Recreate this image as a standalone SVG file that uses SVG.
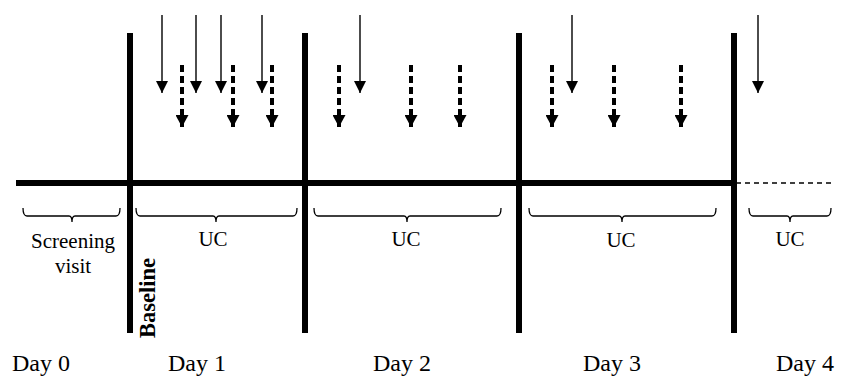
<svg xmlns="http://www.w3.org/2000/svg" width="841" height="378" viewBox="0 0 841 378">
<style>
.bar{stroke:#000;stroke-width:6;fill:none}
.axis{stroke:#000;stroke-width:6;fill:none}
.ext{stroke:#000;stroke-width:1.3;stroke-dasharray:5 4;fill:none}
.sol{stroke:#000;stroke-width:1.4;fill:none;marker-end:url(#hs)}
.dsh{stroke:#000;stroke-width:4;stroke-dasharray:7 4;fill:none;marker-end:url(#hd)}
.brace{stroke:#000;stroke-width:1.3;fill:none}
.t{font-family:"Liberation Serif","Times New Roman",serif;fill:#000;text-anchor:middle}
.s20{font-size:21px}
.s23{font-size:24px}
.bold{font-weight:bold;font-size:22.5px}
</style>
<defs>
<marker id="hs" markerUnits="userSpaceOnUse" markerWidth="12" markerHeight="12" refX="12" refY="6" orient="auto"><path d="M0,0 L12,6 L0,12 z" fill="#000"/></marker>
<marker id="hd" markerUnits="userSpaceOnUse" markerWidth="13" markerHeight="13" refX="12" refY="6.5" orient="auto"><path d="M0,0 L12,6.5 L0,13 z" fill="#000"/></marker>
</defs>
<rect width="841" height="378" fill="#fff"/>
<g id="timeline">
<line class="axis" x1="16" y1="183" x2="734" y2="183"/>
<line class="ext" x1="736" y1="183" x2="834" y2="183"/>
</g>
<g id="day-bars">
<line class="bar" x1="130" y1="33" x2="130" y2="333"/>
<line class="bar" x1="305" y1="33" x2="305" y2="333"/>
<line class="bar" x1="519" y1="33" x2="519" y2="333"/>
<line class="bar" x1="734" y1="33" x2="734" y2="333"/>
</g>
<g id="connectors">
<line class="sol" x1="162" y1="15" x2="162" y2="93"/>
<line class="sol" x1="196" y1="15" x2="196" y2="93"/>
<line class="sol" x1="221" y1="15" x2="221" y2="93"/>
<line class="sol" x1="262" y1="15" x2="262" y2="93"/>
<line class="sol" x1="360" y1="15" x2="360" y2="93"/>
<line class="sol" x1="572" y1="15" x2="572" y2="93"/>
<line class="sol" x1="758" y1="15" x2="758" y2="93"/>
<line class="dsh" x1="182" y1="65" x2="182" y2="127"/>
<line class="dsh" x1="233" y1="65" x2="233" y2="127"/>
<line class="dsh" x1="272" y1="65" x2="272" y2="127"/>
<line class="dsh" x1="339" y1="65" x2="339" y2="127"/>
<line class="dsh" x1="411" y1="65" x2="411" y2="127"/>
<line class="dsh" x1="460" y1="65" x2="460" y2="127"/>
<line class="dsh" x1="552" y1="65" x2="552" y2="127"/>
<line class="dsh" x1="614" y1="65" x2="614" y2="127"/>
<line class="dsh" x1="681" y1="65" x2="681" y2="127"/>
</g>
<g id="screening">
<path class="brace" d="M23,208 Q23,216 27,216 L69,216 Q72,216 72,222 Q72,216 75,216 L116,216 Q120,216 120,208"/>
<text class="t s20" x="73" y="248">Screening</text>
<text class="t s20" x="73" y="273">visit</text>
</g>
<g id="uc1">
<path class="brace" d="M136,208 Q136,216 140,216 L213,216 Q216,216 216,222 Q216,216 219,216 L293,216 Q297,216 297,208"/>
<text class="t s20" x="213" y="246">UC</text>
</g>
<g id="uc2">
<path class="brace" d="M314,208 Q314,216 318,216 L404,216 Q407,216 407,222 Q407,216 410,216 L497,216 Q501,216 501,208"/>
<text class="t s20" x="406" y="246">UC</text>
</g>
<g id="uc3">
<path class="brace" d="M529,208 Q529,216 533,216 L619,216 Q622,216 622,222 Q622,216 625,216 L712,216 Q716,216 716,208"/>
<text class="t s20" x="621" y="247">UC</text>
</g>
<g id="uc4">
<path class="brace" d="M749,208 Q749,216 753,216 L787,216 Q790,216 790,222 Q790,216 793,216 L827,216 Q831,216 831,208"/>
<text class="t s20" x="790" y="246">UC</text>
</g>
<g id="baseline">
<text class="t bold" transform="translate(155,298) rotate(-90)">Baseline</text>
</g>
<g id="days">
<text class="t s23" x="41" y="371">Day 0</text>
<text class="t s23" x="197" y="371">Day 1</text>
<text class="t s23" x="402" y="371">Day 2</text>
<text class="t s23" x="612" y="371">Day 3</text>
<text class="t s23" x="805" y="371">Day 4</text>
</g>
</svg>
